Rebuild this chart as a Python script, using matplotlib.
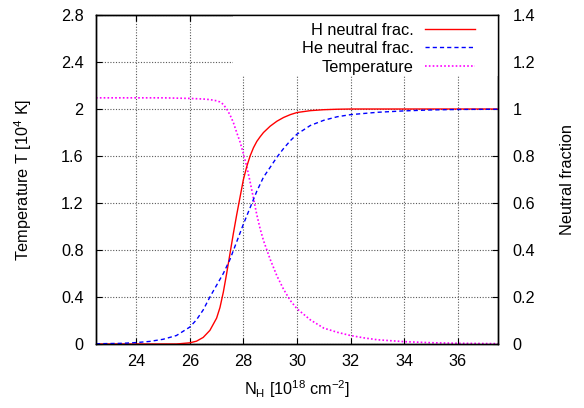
import matplotlib
matplotlib.use("Agg")
import matplotlib.pyplot as plt
from matplotlib.patches import Rectangle
from matplotlib.ticker import FuncFormatter, FixedLocator

plt.rcParams['font.family'] = ['Liberation Sans', 'DejaVu Sans']
plt.rcParams['mathtext.fontset'] = 'custom'
plt.rcParams['mathtext.rm'] = 'Liberation Sans'
plt.rcParams['mathtext.default'] = 'regular'

# Column density N_H [10^18 cm^-2] and values
x_h = [22.5, 25.5, 26.0, 26.25, 26.5, 26.75, 27.0, 27.125, 27.25, 27.375, 27.5,
       27.625, 27.75, 27.875, 28.0, 28.125, 28.25, 28.375, 28.5, 28.625, 28.75,
       29.0, 29.25, 29.5, 29.75, 30.0, 30.5, 31.0, 31.5, 32.0, 37.5]
h_frac = [0.0, 0.0, 0.005, 0.012, 0.028, 0.058, 0.11, 0.155, 0.22, 0.30, 0.385,
          0.47, 0.55, 0.625, 0.70, 0.755, 0.80, 0.835, 0.862, 0.882, 0.90,
          0.927, 0.948, 0.964, 0.976, 0.985, 0.993, 0.997, 0.999, 1.0, 1.0]

x_he = [22.5, 23.0, 23.5, 24.0, 24.5, 25.0, 25.5, 26.0, 26.25, 26.5, 26.75,
        27.0, 27.25, 27.5, 27.75, 28.0, 28.25, 28.5, 28.75, 29.0, 29.25, 29.5,
        29.75, 30.0, 30.5, 31.0, 31.5, 32.0, 33.0, 34.0, 35.0, 36.0, 37.5]
he_frac = [0.001, 0.002, 0.003, 0.006, 0.011, 0.02, 0.036, 0.072, 0.103, 0.145, 0.20,
           0.25, 0.30, 0.36, 0.435, 0.51, 0.58, 0.65, 0.71, 0.752, 0.795, 0.832,
           0.865, 0.893, 0.93, 0.952, 0.967, 0.976, 0.986, 0.992, 0.996, 0.998, 0.999]

x_t = [22.5, 25.0, 26.0, 26.5, 26.75, 27.0, 27.125, 27.25, 27.375, 27.5, 27.625,
       27.75, 27.875, 28.0, 28.125, 28.25, 28.375, 28.5, 28.625, 28.75, 28.875,
       29.0, 29.25, 29.5, 29.75, 30.0, 30.5, 31.0, 31.5, 32.0, 32.5,
       33.0, 34.0, 35.0, 36.0, 37.5]
temp = [2.095, 2.095, 2.09, 2.085, 2.08, 2.07, 2.06, 2.04, 2.00, 1.95, 1.885,
        1.80, 1.72, 1.62, 1.51, 1.38, 1.24, 1.10, 0.98, 0.88, 0.80,
        0.72, 0.58, 0.465, 0.37, 0.30, 0.205, 0.135, 0.10, 0.072, 0.052,
        0.036, 0.02, 0.011, 0.006, 0.003]

x_ticks = [24, 26, 28, 30, 32, 34, 36]
t_ticks = [0, 0.4, 0.8, 1.2, 1.6, 2.0, 2.4, 2.8]
f_ticks = [0, 0.2, 0.4, 0.6, 0.8, 1.0, 1.2, 1.4]

labels = ['H neutral frac.', 'He neutral frac.', 'Temperature']

fig = plt.figure(figsize=(5.84, 4.08), dpi=100)
ax = fig.add_axes([96/584, 1-344/408, 402/584, 329/408])
ax2 = ax.twinx()
ax2.xaxis.set_visible(True)

fs = 11.7
fmt = FuncFormatter(lambda v, p: '%g' % round(v, 6))

ax.set_xlim(22.5, 37.5)
ax.set_ylim(0, 2.8)
ax2.set_ylim(0, 1.4)
ax.xaxis.set_major_locator(FixedLocator(x_ticks))
ax.yaxis.set_major_locator(FixedLocator(t_ticks))
ax2.yaxis.set_major_locator(FixedLocator(f_ticks))
ax.xaxis.set_major_formatter(fmt)
ax.yaxis.set_major_formatter(fmt)
ax2.yaxis.set_major_formatter(fmt)

ax.grid(True, color='0.35', linestyle=(0, (1, 1.5)), linewidth=0.8)
ax.tick_params(axis='both', direction='in', length=4.5, width=0.8,
               labelsize=fs, top=True, right=False)
ax.tick_params(axis='y', pad=9)
ax.tick_params(axis='x', pad=7)
ax2.tick_params(axis='y', direction='in', length=4.5, width=0.8,
                labelsize=fs, pad=10.5)
ax2.tick_params(axis='x', direction='in', length=4.5, width=0.8,
                bottom=False, top=True, labelbottom=False, labeltop=False)
for a in (ax, ax2):
    for s in a.spines.values():
        s.set_linewidth(1.0)

lt, = ax.plot(x_t, temp, color='#ff00ff', linewidth=1.2,
              linestyle=(0, (1.0, 1.3)), label=labels[2])
lh, = ax2.plot(x_h, h_frac, color='#ff0000', linewidth=1.0, label=labels[0])
lhe, = ax2.plot(x_he, he_frac, color='#0000ff', linewidth=1.0,
                linestyle=(0, (3, 2.2)), label=labels[1])

x0 = (233 - 96) / 402
y0 = (344 - 76) / 329
ax2.add_patch(Rectangle((x0, y0), 1 - x0, 1 - y0,
                        transform=ax2.transAxes, facecolor='white',
                        edgecolor='none', zorder=2.4, clip_on=False))
leg = ax2.legend([lh, lhe, lt], labels, loc='upper right',
                 bbox_to_anchor=((475 - 96) / 402, 0.977), frameon=False,
                 markerfirst=False, fontsize=fs, handlelength=3.07,
                 handletextpad=0.7, labelspacing=0.22, borderpad=0,
                 borderaxespad=0)
leg.set_zorder(6)

ax.set_xlabel(r'N$_{H}$ [10$^{18}$ cm$^{-2}$]', fontsize=fs, labelpad=7)
ax.set_ylabel(r'Temperature T [10$^{4}$ K]', fontsize=fs, labelpad=19)
ax2.set_ylabel('Neutral fraction', fontsize=fs, labelpad=18, rotation=90)

fig.savefig('out.png', dpi=100)
